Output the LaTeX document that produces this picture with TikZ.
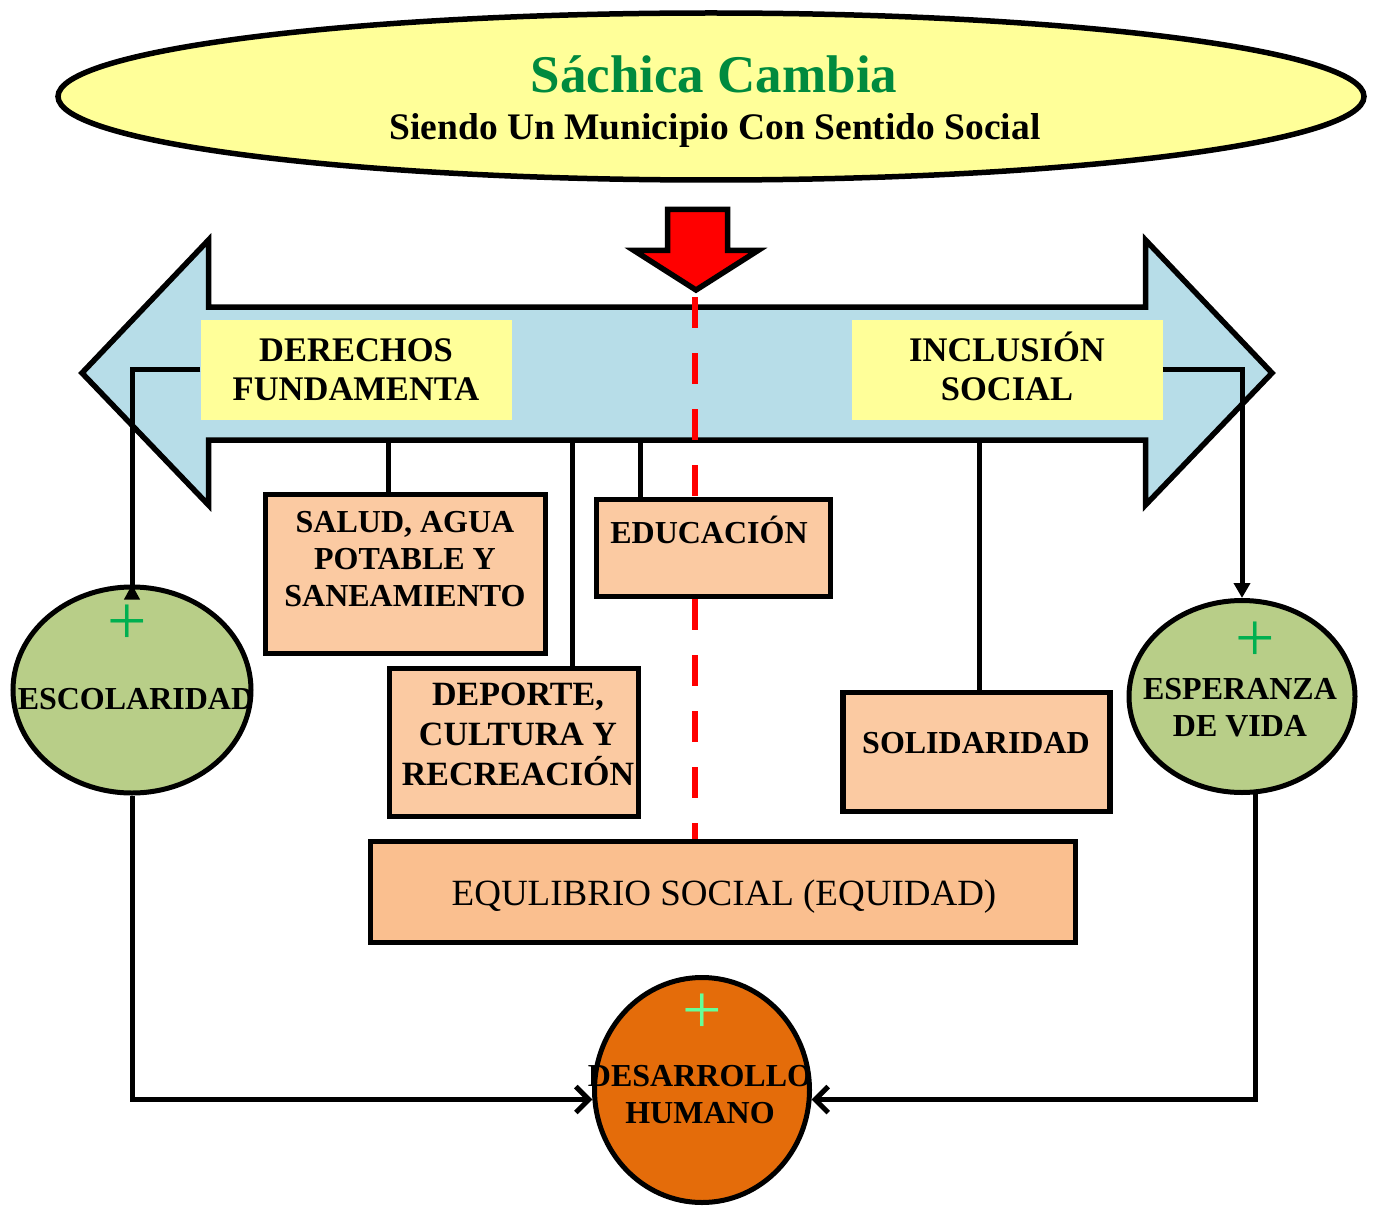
\documentclass[tikz,border=0pt]{standalone}
\usepackage{fontspec}
\setmainfont{Liberation Serif}
\usetikzlibrary{arrows.meta,shapes.geometric}
\definecolor{amarillo}{HTML}{FFFF99}
\definecolor{verdetit}{HTML}{008A3E}
\definecolor{azul}{HTML}{B7DDE8}
\definecolor{durazno}{HTML}{FBCAA2}
\definecolor{durazno2}{HTML}{FABF8F}
\definecolor{verdecir}{HTML}{B8CE88}
\definecolor{verdemas}{HTML}{00B050}
\definecolor{naranja}{HTML}{E46C0A}
\definecolor{verdeclaro}{HTML}{66FF99}
\begin{document}
\begin{tikzpicture}[x=1pt,y=-1pt,
  caja/.style={draw=black, line width=5.5pt, fill=durazno, inner sep=0pt},
  circulo/.style={ellipse, draw=black, line width=5pt, fill=verdecir, inner sep=0pt},
  texto/.style={align=center, inner sep=0pt, font=\fontsize{32}{37}\selectfont\bfseries},
  amarilla/.style={fill=amarillo, inner sep=0pt, align=center, minimum width=311, minimum height=100, font=\fontsize{34.5}{39}\selectfont\bfseries},
  linea/.style={line width=5pt},
  eje/.style={red, line width=6.5pt, dash pattern=on 31pt off 25pt},
  mas/.style={inner sep=0pt, text=verdemas, font=\fontsize{70}{70}\selectfont}]
\useasboundingbox (0,0) rectangle (1375,1206);

% titulo
\node[ellipse, draw=black, line width=5.5pt, fill=amarillo, inner sep=0pt, minimum width=1306, minimum height=167] (titulo) at (711,96.5) {};
\node[anchor=base, inner sep=0pt, text=verdetit, font=\fontsize{53}{53}\selectfont\bfseries] (sachica) at (714,93) {Sáchica Cambia};
\node[anchor=base, inner sep=0pt, font=\fontsize{37.5}{37.5}\selectfont\bfseries] (siendo) at (715,140) {Siendo Un Municipio Con Sentido Social};

% flecha doble
\draw[line width=5.5pt, fill=azul] (82,373) -- (208.5,240) -- (208.5,307) -- (1145.5,307) -- (1145.5,240) -- (1272,373)
 -- (1145.5,505) -- (1145.5,440) -- (208.5,440) -- (208.5,505) -- cycle;
% flecha roja
\draw[line width=5.5pt, fill=red] (667.5,209.5) -- (727.5,209.5) -- (727.5,250.5) -- (758,250.5) -- (696,290) -- (634,250.5) -- (667.5,250.5) -- cycle;

\node[amarilla] (derechos) at (356,369.5) {DERECHOS\\FUNDAMENTA};
\node[amarilla] (inclusion) at (1007,369.5) {INCLUSI\smash{Ó}N\\SOCIAL};

% cajas
\node[caja, minimum width=280, minimum height=159] (salud) at (405.5,574) {};
\node[texto] (saludtxt) at (405,559) {SALUD, AGUA\\POTABLE Y\\SANEAMIENTO};
\node[caja, minimum width=234, minimum height=97] (educacion) at (713.5,548) {};
\node[texto, anchor=base] (educaciontxt) at (709,543) {EDUCACIÓN};
\node[caja, minimum width=249, minimum height=148] (deporte) at (514,742.5) {};
\node[texto, font=\fontsize{34}{40}\selectfont\bfseries] (deportetxt) at (518,734) {DEPORTE,\\CULTURA Y\\RECREACIÓN};
\node[caja, minimum width=267, minimum height=119] (solidaridad) at (976.5,752) {};
\node[texto, anchor=base] (solidaridadtxt) at (976,753) {SOLIDARIDAD};
\node[caja, fill=durazno2, minimum width=705, minimum height=101] (equilibrio) at (723,892) {};
\node[texto, anchor=base, font=\fontsize{37}{37}\selectfont] (equilibriotxt) at (724,905) {EQULIBRIO SOCIAL (EQUIDAD)};

% eje rojo
\coordinate (punta) at (695,297);
\draw[eje] (punta) -- (punta |- educacion.north);
\draw[eje] (punta |- educacion.south) -- (punta |- equilibrio.north);

% circulos
\node[circulo, minimum width=238, minimum height=206] (esc) at (132,690) {};
\node[texto, anchor=base] (esctxt) at (136,709) {ESCOLARIDAD};
\node[mas] (escmas) at (127,625) {+};
\node[circulo, minimum width=226, minimum height=192] (esp) at (1242,696.5) {};
\node[texto] (esptxt) at (1240,707.5) {ESPERANZA\\DE VIDA};
\node[mas] (espmas) at (1255,642) {+};
\node[circulo, fill=naranja, minimum width=215, minimum height=225] (des) at (702,1090) {};
\node[texto] (destxt) at (700,1095) {DESARROLLO\\HUMANO};
\node[mas, text=verdeclaro] (desmas) at (702,1014) {+};

% conectores
\coordinate (abajo1) at (388,443);
\coordinate (abajo2) at (572,443);
\coordinate (abajo3) at (640,443);
\coordinate (abajo4) at (979,443);
\draw[linea] (abajo1) -- (abajo1 |- salud.north);
\draw[linea] (abajo2) -- (abajo2 |- deporte.north);
\draw[linea] (abajo3) -- (abajo3 |- educacion.north);
\draw[linea] (abajo4) -- (abajo4 |- solidaridad.north);
\draw[linea, -{Triangle[reversed, length=15pt, width=15pt]}] (derechos.west) -| ([yshift=-15pt]esc.north);
\draw[linea, -{Triangle[length=15pt, width=16pt]}] (inclusion.east) -| (esp.north);
\draw[linea, -{Straight Barb[length=13pt, width=26pt]}] (esc.south) |- (des.185);
\draw[linea, -{Straight Barb[length=13pt, width=26pt]}] (esp.-82) |- (des.-5);
\end{tikzpicture}
\end{document}
